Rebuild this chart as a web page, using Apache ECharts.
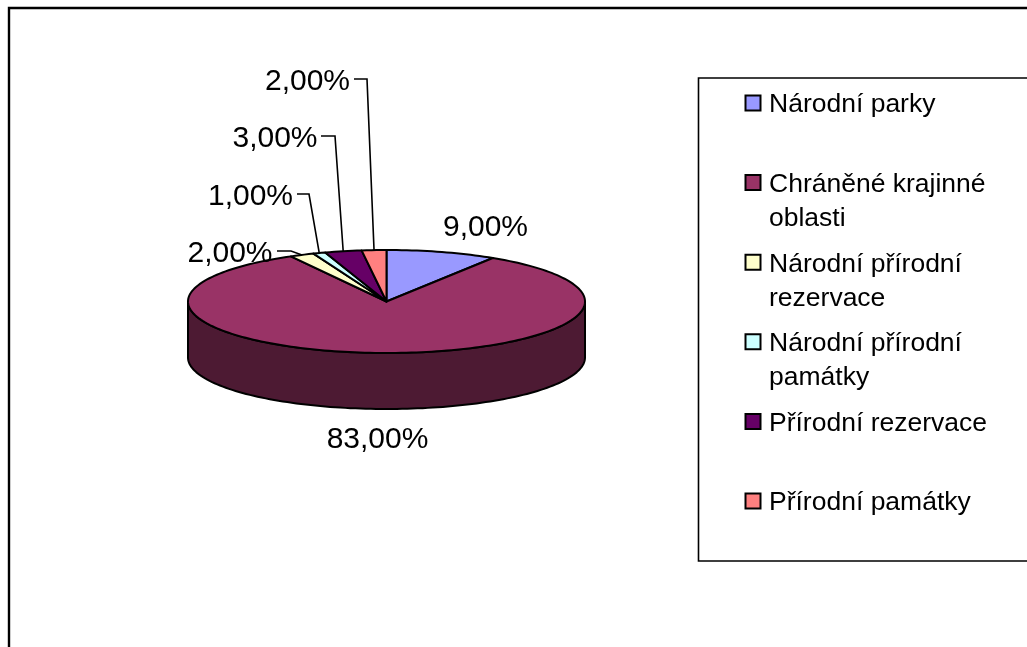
<!DOCTYPE html>
<html>
<head>
<meta charset="utf-8">
<style>html,body{margin:0;padding:0;background:#fff}#c{width:1027px;height:647px}</style>
<script src="https://cdn.jsdelivr.net/npm/echarts@6/dist/echarts.min.js"></script>
</head>
<body>
<div id="c"></div>
<script>
const categories = ['Národní parky','Chráněné krajinné oblasti','Národní přírodní rezervace','Národní přírodní památky','Přírodní rezervace','Přírodní památky'];
const values = [9, 83, 2, 1, 3, 2];
const colors = ['#9999FF','#993366','#FFFFCC','#CCFFFF','#660066','#FF8080'];
const wallColor = '#4D1A33';
const FONT = '"Liberation Sans", Arial, sans-serif';
const pie = {cx:386.5, cy:301.5, rx:198.5, ry:51.5, depth:56};
const labelLayout = [
  {x:485.5, y:228},
  {x:377.5, y:440},
  {x:230, y:254, line:[[277,251],[291,251]]},
  {x:250.5, y:197, line:[[297,194],[309,194]]},
  {x:275, y:139, line:[[321,136],[335,136]]},
  {x:307.5, y:82, line:[[354,79],[367,79]]}
];
const total = values.reduce((a,b)=>a+b,0);
const pt = (a,dy=0)=>[pie.cx+pie.rx*Math.sin(a), pie.cy+dy-pie.ry*Math.cos(a)];
const fmt = v=>v.toFixed(2).replace('.',',')+'%';
function arc(a0,a1,dy){
  const n=Math.max(2,Math.ceil((a1-a0)/(Math.PI/120))), out=[];
  for(let i=0;i<=n;i++) out.push(pt(a0+(a1-a0)*i/n,dy));
  return out;
}
function cumBefore(i){let s=0;for(let k=0;k<i;k++)s+=values[k];return s;}
function renderSlice(params, api){
  const i=params.dataIndex, v=api.value(0);
  const a0=cumBefore(i)/total*2*Math.PI, a1=a0+v/total*2*Math.PI;
  const children=[];
  const w0=Math.max(a0,Math.PI/2), w1=Math.min(a1,Math.PI*1.5);
  if(w1>w0){
    children.push({type:'polygon',shape:{points:arc(w0,w1,0).concat(arc(w0,w1,pie.depth).reverse())},
      style:{fill:wallColor,stroke:'#000',lineWidth:2,lineJoin:'round'}});
  }
  children.push({type:'polygon',shape:{points:[[pie.cx,pie.cy]].concat(arc(a0,a1,0))},
    style:{fill:colors[i],stroke:'#000',lineWidth:2,lineJoin:'round'}});
  const L=labelLayout[i];
  if(L.line){
    const mid=(a0+a1)/2, end=pt(mid);
    children.push({type:'polyline',shape:{points:L.line.concat([end])},
      style:{fill:'none',stroke:'#000',lineWidth:1.6},z2:5});
  }
  children.push({type:'text',x:L.x,y:L.y,z2:6,style:{text:fmt(v),font:'30px '+FONT,fill:'#000',align:'center',verticalAlign:'middle'}});
  return {type:'group',children};
}
const legendWrapAfter = ['', 'krajinné', 'přírodní', 'přírodní', '', ''];
const legendTop=103, legendStep=79.6;
const graphic=[
  {type:'rect',shape:{x:9,y:8,width:1100,height:700},style:{fill:'#fff',stroke:'#000',lineWidth:2.4},z:-1},
  {type:'rect',shape:{x:698.5,y:78,width:400,height:483},style:{fill:'#fff',stroke:'#000',lineWidth:1.6},z:-1}
];
categories.forEach((c,i)=>{
  const y=legendTop+legendStep*i;
  const w=legendWrapAfter[i];
  const text=w?c.replace(w+' ',w+'\n'):c;
  graphic.push({type:'rect',shape:{x:745.5,y:y-7.5,width:15,height:15},style:{fill:colors[i],stroke:'#000',lineWidth:2}});
  graphic.push({type:'text',x:769,y:y-15,style:{text:text,font:'26.5px '+FONT,lineHeight:34,fill:'#000',align:'left',verticalAlign:'top'}});
});
const chart=echarts.init(document.getElementById('c'),null,{renderer:'canvas',width:1027,height:647});
chart.setOption({
  animation:false,
  backgroundColor:'#fff',
  graphic:graphic,
  series:[{type:'custom',coordinateSystem:'none',renderItem:renderSlice,
    data:categories.map((c,i)=>({name:c,value:[values[i]]})),silent:true,clip:false}]
});
</script>
</body>
</html>
